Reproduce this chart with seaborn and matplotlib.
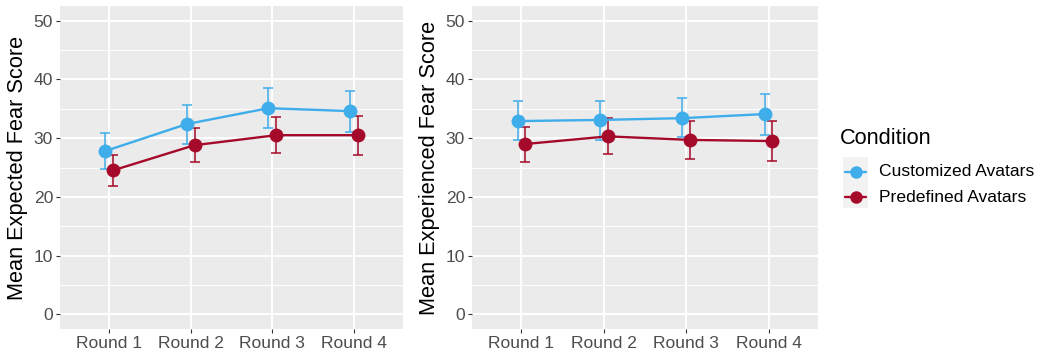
import numpy as np
import pandas as pd
import matplotlib
matplotlib.use("Agg")
import matplotlib.pyplot as plt
import seaborn as sns
from matplotlib.lines import Line2D
from matplotlib.patches import Rectangle

rounds = ["Round 1", "Round 2", "Round 3", "Round 4"]
conditions = ["Customized Avatars", "Predefined Avatars"]
colors = {"Customized Avatars": "#3FADEA", "Predefined Avatars": "#A50A2A"}

# expected fear (left panel)
exp_cust = [27.8, 32.4, 35.1, 34.6]
exp_cust_lo = [24.7, 29.0, 31.7, 31.0]
exp_cust_hi = [30.8, 35.7, 38.5, 38.0]
exp_pred = [24.5, 28.8, 30.5, 30.5]
exp_pred_lo = [21.9, 25.9, 27.5, 27.1]
exp_pred_hi = [27.1, 31.7, 33.6, 33.7]

# experienced fear (right panel)
expd_cust = [32.9, 33.1, 33.4, 34.1]
expd_cust_lo = [29.7, 29.7, 30.2, 30.5]
expd_cust_hi = [36.3, 36.4, 36.8, 37.6]
expd_pred = [29.0, 30.3, 29.7, 29.5]
expd_pred_lo = [25.9, 27.3, 26.4, 26.1]
expd_pred_hi = [31.9, 33.4, 32.9, 32.9]


def make_df(cust, cust_lo, cust_hi, pred, pred_lo, pred_hi):
    rows = []
    for i, r in enumerate(rounds):
        rows.append([r, i, "Customized Avatars", cust[i], cust_lo[i], cust_hi[i]])
        rows.append([r, i, "Predefined Avatars", pred[i], pred_lo[i], pred_hi[i]])
    return pd.DataFrame(rows, columns=["round", "idx", "cond", "mean", "lo", "hi"])


df_exp = make_df(exp_cust, exp_cust_lo, exp_cust_hi, exp_pred, exp_pred_lo, exp_pred_hi)
df_expd = make_df(expd_cust, expd_cust_lo, expd_cust_hi, expd_pred, expd_pred_lo, expd_pred_hi)

sns.set_style("white")
plt.rcParams["font.family"] = ["Liberation Sans", "DejaVu Sans"]

TICK_FS = 12.6
TITLE_FS = 15.7

W, H = 1045, 354
fig = plt.figure(figsize=(W / 100, H / 100), dpi=100)


def px_axes(x0, x1, y0, y1):
    return fig.add_axes([x0 / W, 1 - y1 / H, (x1 - x0) / W, (y1 - y0) / H])


ax1 = px_axes(60, 403, 6, 329)
ax2 = px_axes(472, 818, 6, 329)

dodge = {"Customized Avatars": -0.047, "Predefined Avatars": 0.047}


def draw(ax, df, ylabel):
    ax.set_facecolor("#EBEBEB")
    ax.set_axisbelow(True)
    for y in range(0, 51, 10):
        ax.axhline(y, color="white", lw=1.4, zorder=0)
    for y in range(5, 50, 10):
        ax.axhline(y, color="white", lw=0.7, zorder=0)
    for x in range(4):
        ax.axvline(x, color="white", lw=1.4, zorder=0)
    d = df.copy()
    d["x"] = d["idx"] + d["cond"].map(dodge)
    for c in conditions:
        sub = d[d["cond"] == c]
        ax.errorbar(sub["x"], sub["mean"],
                    yerr=[sub["mean"] - sub["lo"], sub["hi"] - sub["mean"]],
                    fmt="none", ecolor=colors[c], elinewidth=1.1, capsize=3.5,
                    capthick=1.1, zorder=2)
    sns.lineplot(data=d, x="x", y="mean", hue="cond", palette=colors,
                 hue_order=conditions, marker="o", markersize=10,
                 markeredgewidth=0, linewidth=1.7, ax=ax, legend=False,
                 zorder=3)
    ax.set_xlim(-0.6, 3.6)
    ax.set_ylim(-2.5, 52.5)
    ax.set_xticks(range(4))
    ax.set_xticklabels(rounds)
    ax.set_yticks(range(0, 51, 10))
    ax.tick_params(axis="both", length=3, width=0.8, color="#333333",
                   labelcolor="#4D4D4D", labelsize=TICK_FS, pad=2,
                   left=True, bottom=True)
    ax.set_xlabel("")
    ax.set_ylabel(ylabel, fontsize=TITLE_FS, color="black", labelpad=4)
    for s in ax.spines.values():
        s.set_visible(False)


draw(ax1, df_exp, "Mean Expected Fear Score")
draw(ax2, df_expd, "Mean Experienced Fear Score")

# legend
fig.patches.append(Rectangle((843 / W, 1 - 208 / H), 25 / W, 51 / H,
                             transform=fig.transFigure, facecolor="#F2F2F2",
                             edgecolor="none"))
fig.text(840 / W, 1 - 139 / H, "Condition", fontsize=TITLE_FS, va="center",
         ha="left", color="black")
for c, yc in zip(conditions, [171.5, 197]):
    fig.lines.append(Line2D([845 / W, 866 / W], [1 - yc / H] * 2,
                            transform=fig.transFigure, color=colors[c], lw=1.7))
    fig.lines.append(Line2D([855.5 / W], [1 - yc / H], transform=fig.transFigure,
                            color=colors[c], marker="o", markersize=9,
                            markeredgewidth=0))
    fig.text(879 / W, 1 - yc / H, c, fontsize=TICK_FS, va="center", ha="left",
             color="black")

fig.savefig("out.png", dpi=100, facecolor="white")
